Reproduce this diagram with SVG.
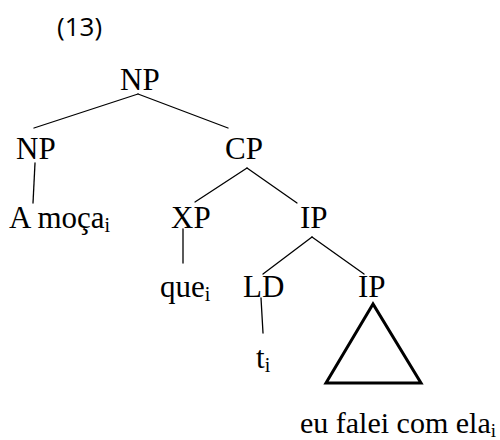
<svg xmlns="http://www.w3.org/2000/svg" width="500" height="440" viewBox="0 0 500 440">
  <style>
    .lbl { font-family: "Liberation Serif", "Times New Roman", serif; font-size: 31px; fill: #000; }
    .sub { font-size: 20px; }
    .clause { font-size: 30px; }
    .clause .sub { font-size: 19px; }
    .num { font-family: "Open Sans", "Liberation Sans", sans-serif; font-size: 26px; fill: #000; }
    .edge { stroke: #000; stroke-width: 1.3; fill: none; stroke-linecap: round; }
    .tri { stroke: #000; stroke-width: 3; fill: none; stroke-linejoin: miter; }
  </style>
  <rect width="500" height="440" fill="#fff"/>

  <text class="num" x="57" y="36">(13)</text>

  <!-- branches -->
  <g id="connectors">
    <line class="edge" x1="138" y1="94" x2="34" y2="128"/>
    <line class="edge" x1="138" y1="94" x2="228" y2="128"/>
    <line class="edge" x1="35" y1="163" x2="33" y2="203"/>
    <line class="edge" x1="247" y1="168" x2="195" y2="202"/>
    <line class="edge" x1="247" y1="168" x2="297" y2="203"/>
    <line class="edge" x1="183" y1="229" x2="183" y2="263"/>
    <line class="edge" x1="312" y1="237" x2="263" y2="274"/>
    <line class="edge" x1="312" y1="237" x2="364" y2="274"/>
    <line class="edge" x1="261" y1="298" x2="263" y2="333"/>
    <polygon class="tri" points="373,304 326,383 421,383"/>
  </g>

  <g id="np-root"><text class="lbl" x="120" y="90">NP</text></g>
  <g id="np-left"><text class="lbl" x="16" y="159">NP</text></g>
  <g id="cp"><text class="lbl" x="225" y="159">CP</text></g>
  <g id="a-moca"><text class="lbl" x="9" y="228">A moça<tspan class="sub" dy="4">i</tspan></text></g>
  <g id="xp"><text class="lbl" x="171" y="228">XP</text></g>
  <g id="ip"><text class="lbl" x="300" y="228">IP</text></g>
  <g id="que"><text class="lbl" x="160" y="297">que<tspan class="sub" dy="4">i</tspan></text></g>
  <g id="ld"><text class="lbl" x="243" y="297">LD</text></g>
  <g id="ip-low"><text class="lbl" x="358" y="297">IP</text></g>
  <g id="trace"><text class="lbl" x="256" y="368">t<tspan class="sub" dy="4">i</tspan></text></g>
  <g id="clause"><text class="lbl clause" x="300" y="433">eu falei com ela<tspan class="sub" dy="4">i</tspan></text></g>
</svg>
